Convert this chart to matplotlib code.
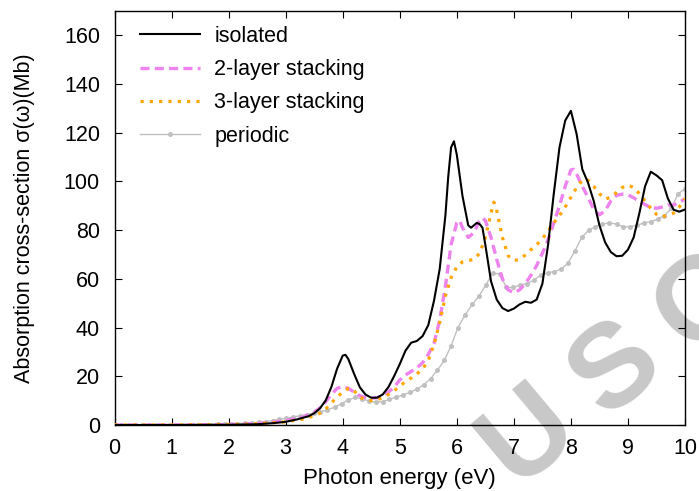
import matplotlib
matplotlib.use("Agg")
import matplotlib.pyplot as plt

plt.rcParams['font.family'] = ['Liberation Sans', 'DejaVu Sans']
plt.rcParams['lines.scale_dashes'] = False

# ---------------- data ----------------
iso_x = [0.0, 1.0, 2.0, 2.5, 2.8, 3.0, 3.2, 3.4, 3.5, 3.6, 3.7, 3.8, 3.9, 4.0, 4.05, 4.1,
         4.2, 4.3, 4.4, 4.5, 4.6, 4.7, 4.8, 4.9, 5.0, 5.1, 5.2, 5.3, 5.4, 5.5, 5.6, 5.7,
         5.8, 5.85, 5.9, 5.95, 6.0, 6.1, 6.2, 6.25, 6.3, 6.35, 6.4, 6.45, 6.5, 6.6, 6.7,
         6.8, 6.9, 7.0, 7.1, 7.2, 7.3, 7.4, 7.5, 7.6, 7.7, 7.8, 7.9, 8.0, 8.1, 8.2, 8.3,
         8.4, 8.5, 8.6, 8.7, 8.8, 8.9, 9.0, 9.1, 9.2, 9.3, 9.4, 9.5, 9.6, 9.7, 9.8, 9.9, 10.0]
iso_y = [0.0, 0.0, 0.1, 0.3, 0.8, 1.3, 2.3, 3.6, 4.8, 6.8, 10.0, 15.5, 23.0, 28.5, 28.8, 27.0,
         21.0, 15.5, 12.5, 11.2, 11.2, 12.5, 15.5, 20.0, 25.0, 30.5, 33.8, 34.5, 36.5, 41.0, 51.0, 64.0,
         86.0, 102.0, 114.0, 116.5, 111.0, 94.0, 82.0, 81.0, 82.0, 83.0, 82.5, 81.0, 74.0, 59.0, 51.5,
         48.0, 46.8, 47.8, 49.5, 50.6, 50.2, 51.5, 58.0, 74.0, 95.0, 114.0, 125.0, 129.0, 119.5, 105.0, 99.5,
         92.0, 82.0, 75.0, 71.0, 69.3, 69.5, 72.0, 77.0, 87.0, 98.0, 104.0, 102.5, 100.5, 93.0, 88.4, 87.6, 88.5]

l2_x = [0.0, 1.0, 2.0, 2.5, 3.0, 3.3, 3.5, 3.6, 3.7, 3.8, 3.9, 4.0, 4.1, 4.2, 4.3, 4.4, 4.5,
        4.6, 4.7, 4.8, 4.9, 5.0, 5.1, 5.2, 5.3, 5.4, 5.5, 5.6, 5.7, 5.8, 5.9, 6.0, 6.05, 6.1,
        6.2, 6.3, 6.4, 6.45, 6.5, 6.6, 6.7, 6.8, 6.9, 7.0, 7.1, 7.2, 7.3, 7.4, 7.5, 7.6, 7.7,
        7.8, 7.9, 8.0, 8.05, 8.1, 8.2, 8.3, 8.4, 8.5, 8.6, 8.7, 8.8, 8.9, 9.0, 9.1, 9.2, 9.3,
        9.4, 9.5, 9.6, 9.7, 9.8, 9.9, 10.0]
l2_y = [0.0, 0.0, 0.2, 0.6, 1.8, 3.2, 5.3, 7.0, 9.5, 12.5, 15.0, 15.8, 15.0, 13.5, 12.0, 11.3, 11.0,
        11.2, 12.0, 13.5, 15.5, 18.5, 20.5, 22.0, 23.5, 25.5, 29.0, 33.5, 43.0, 57.0, 74.0, 83.0, 84.0, 81.0,
        77.0, 79.0, 84.0, 85.0, 84.0, 77.0, 68.0, 60.0, 55.5, 54.3, 55.5, 58.0, 61.5, 65.5, 70.5, 76.0, 83.0,
        90.0, 98.0, 104.7, 105.0, 103.0, 98.0, 93.5, 88.5, 86.3, 88.0, 92.0, 94.3, 94.8, 94.5, 93.3, 91.8, 90.5,
        89.3, 89.0, 89.5, 90.3, 90.3, 91.5, 92.8]

l3_x = [0.0, 1.0, 2.0, 2.5, 3.0, 3.3, 3.5, 3.6, 3.7, 3.8, 3.9, 4.0, 4.1, 4.15, 4.2, 4.3, 4.4,
        4.5, 4.6, 4.7, 4.8, 4.9, 5.0, 5.1, 5.2, 5.3, 5.4, 5.5, 5.6, 5.7, 5.8, 5.9, 6.0, 6.1,
        6.2, 6.3, 6.4, 6.5, 6.6, 6.65, 6.7, 6.8, 6.9, 7.0, 7.1, 7.2, 7.3, 7.4, 7.5, 7.6, 7.7,
        7.8, 7.9, 8.0, 8.1, 8.2, 8.25, 8.3, 8.4, 8.5, 8.6, 8.7, 8.8, 8.9, 9.0, 9.1, 9.2, 9.3,
        9.4, 9.5, 9.6, 9.7, 9.8, 9.9, 10.0]
l3_y = [0.0, 0.0, 0.2, 0.5, 1.3, 2.4, 3.8, 4.8, 6.5, 9.0, 11.5, 13.5, 15.0, 15.0, 14.0, 11.5, 10.2,
        10.0, 10.3, 11.2, 12.5, 14.0, 16.0, 17.8, 19.3, 21.0, 23.0, 26.5, 33.0, 42.0, 53.0, 60.5, 65.0, 67.0,
        67.5, 68.0, 70.5, 77.0, 87.0, 91.5, 88.0, 77.0, 69.5, 67.5, 68.0, 69.8, 72.0, 74.0, 76.5, 79.5, 83.0,
        86.0, 89.5, 93.5, 97.5, 100.5, 101.0, 100.5, 98.0, 95.0, 92.8, 93.5, 95.5, 97.5, 98.5, 97.5, 95.0, 92.0,
        89.0, 86.5, 85.5, 86.3, 87.0, 89.5, 93.0]

per_x = [0.00, 0.12, 0.24, 0.36, 0.48, 0.60, 0.72, 0.84, 0.96, 1.08, 1.20, 1.33, 1.45, 1.57,
         1.69, 1.81, 1.93, 2.05, 2.17, 2.29, 2.41, 2.53, 2.65, 2.77, 2.89, 3.01, 3.13, 3.25,
         3.37, 3.49, 3.61, 3.73, 3.86, 3.98, 4.10, 4.22, 4.34, 4.46, 4.58, 4.70, 4.82, 4.94,
         5.06, 5.18, 5.30, 5.42, 5.54, 5.66, 5.78, 5.90, 6.02, 6.14, 6.27, 6.39, 6.51, 6.63,
         6.75, 6.87, 6.99, 7.11, 7.23, 7.35, 7.47, 7.59, 7.71, 7.83, 7.95, 8.07, 8.19, 8.31,
         8.43, 8.55, 8.67, 8.80, 8.92, 9.04, 9.16, 9.28, 9.40, 9.52, 9.64, 9.76, 9.88, 10.00]
per_y = [0.0, 0.0, 0.0, 0.0, 0.0, 0.0, 0.0, 0.0, 0.0, 0.05, 0.05, 0.1, 0.1, 0.15,
         0.2, 0.25, 0.3, 0.4, 0.5, 0.7, 0.9, 1.1, 1.4, 1.8, 2.3, 2.8, 3.3, 3.8,
         4.3, 4.8, 5.3, 6.2, 7.3, 8.8, 10.3, 11.3, 10.8, 9.8, 9.3, 9.6, 10.5, 11.5,
         12.3, 13.5, 14.7, 16.5, 19.0, 22.5, 26.5, 32.5, 40.0, 45.0, 49.5, 53.0, 57.5, 62.5,
         62.0, 56.5, 56.5, 57.5, 58.0, 59.5, 61.5, 62.5, 63.0, 64.0, 66.5, 71.5, 77.0, 80.0,
         81.5, 82.5, 83.0, 82.5, 81.3, 81.5, 82.0, 83.0, 83.5, 84.5, 86.0, 89.0, 95.0, 97.0]

x_ticks = [0, 1, 2, 3, 4, 5, 6, 7, 8, 9, 10]
y_ticks = [0, 20, 40, 60, 80, 100, 120, 140, 160]
labels = ["isolated", "2-layer stacking", "3-layer stacking", "periodic"]

# ---------------- figure ----------------
W, H = 699, 491
FS = 15.5
fig = plt.figure(figsize=(W / 100, H / 100), dpi=100)
ax = fig.add_axes([114.5 / W, 1 - 425 / H, 570.5 / W, 414 / H])
ax.patch.set_alpha(0)

# watermark (behind the axes)
wm_color = '#c8c8c8'
for ch, (px, py) in zip("USC", [(530, 436), (617, 370), (703, 304)]):
    fig.text(px / W, 1 - py / H, ch, fontsize=86, fontweight='bold', color=wm_color,
             rotation=40, ha='center', va='center', zorder=-5,
             family=['Liberation Sans', 'DejaVu Sans'])

ax.plot(iso_x, iso_y, color='black', lw=1.5, label=labels[0], zorder=4)
ax.plot(l2_x, l2_y, color='#ee82ee', lw=2.4, dashes=(6.5, 3.8), label=labels[1], zorder=3)
ax.plot(l3_x, l3_y, color='#ffa500', lw=2.3, dashes=(2.3, 4.4), dash_capstyle='butt',
        label=labels[2], zorder=3)
ax.plot(per_x, per_y, color='#c0c0c0', lw=1.0, marker='o', markersize=3.6,
        markeredgewidth=0, label=labels[3], zorder=2)

ax.set_xlim(0, 10)
ax.set_ylim(0, 170)
ax.set_xticks(x_ticks)
ax.set_yticks(y_ticks)
ax.tick_params(direction='in', top=True, right=True, length=5, width=0.8,
               labelsize=FS, color='black')
ax.tick_params(axis='x', pad=9)
ax.tick_params(axis='y', pad=10.5)
for s in ax.spines.values():
    s.set_linewidth(1.0)

ax.set_xlabel("Photon energy (eV)", fontsize=16)
ax.set_ylabel("Absorption cross-section σ(ω)(Mb)", fontsize=FS)
ax.xaxis.set_label_coords(0.5, -0.105)
ax.yaxis.set_label_coords(-0.139, 0.5)

ax.legend(loc='upper left', bbox_to_anchor=(0.0107, 1.011), frameon=False, fontsize=FS,
          handlelength=2.8, handletextpad=0.65, labelspacing=0.57, borderaxespad=0.5,
          numpoints=1)

fig.savefig("out.png", dpi=100)
